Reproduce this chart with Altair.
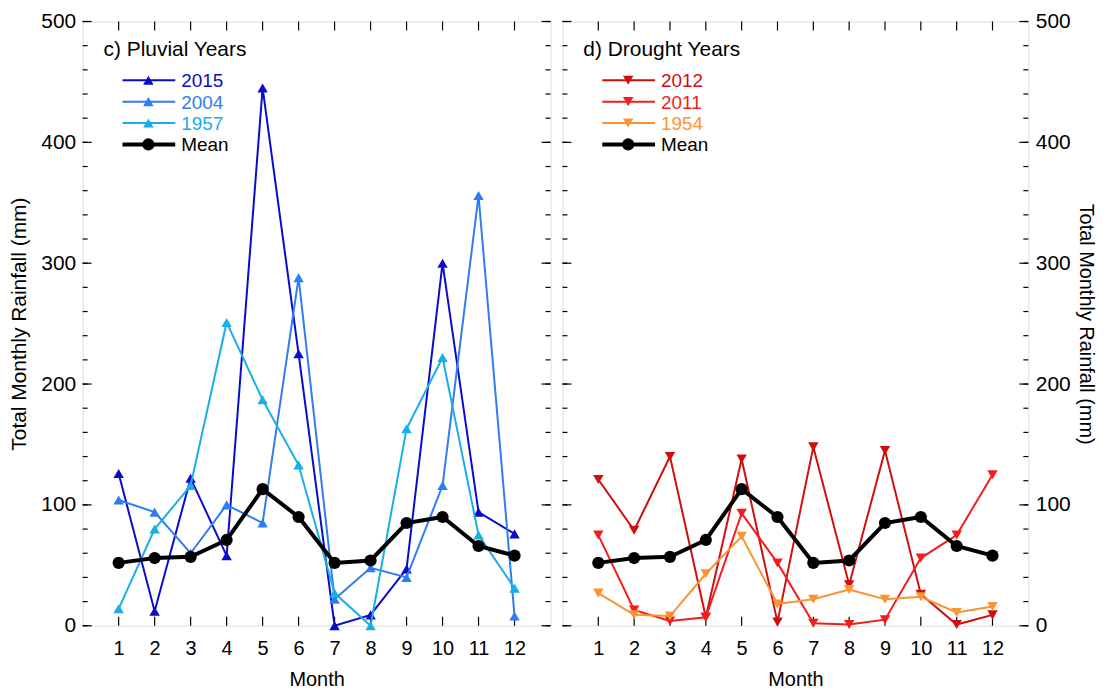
import altair as alt
import pandas as pd

# ---------------- data ----------------
months = list(range(1, 13))
mean_rain = [52, 56, 57, 71, 113, 90, 52, 54, 85, 90, 66, 58]

pluvial_names = ["2015", "2004", "1957"]
pluvial_colors = ["#0b0bcb", "#2f7df2", "#19aee8"]
pluvial_2015 = [126, 12, 122, 58, 445, 225, 0, 9, 47, 300, 94, 76]
pluvial_2004 = [104, 94, 60, 100, 85, 288, 22, 48, 40, 116, 356, 8]
pluvial_1957 = [14, 80, 116, 251, 187, 133, 27, 0, 163, 222, 75, 31]

drought_names = ["2012", "2011", "1954"]
drought_colors = ["#cf0e0e", "#f51c1c", "#fb9330"]
drought_2012 = [121, 79, 140, 7, 138, 3, 148, 34, 145, 26, 1, 9]
drought_2011 = [75, 13, 4, 7, 93, 52, 2, 1, 5, 56, 75, 125]
drought_1954 = [27, 9, 8, 43, 74, 18, 22, 30, 22, 24, 11, 16]

y_tick_labels = [0, 100, 200, 300, 400, 500]
y_minor = list(range(0, 501, 20))

FONT = "Liberation Sans"
H = 607
WL = 470
WR = 468


def x_enc(title):
    return alt.X(
        "month:Q",
        scale=alt.Scale(domain=[0, 13], nice=False, zero=False),
        axis=alt.Axis(values=months, title=title, ticks=False, domain=False,
                      grid=False, labelFontSize=20, labelPadding=13,
                      titleFontSize=20, titleFontWeight="normal", titlePadding=11,
                      labelFont=FONT, titleFont=FONT, labelColor="black",
                      titleColor="black"),
    )


def y_enc(field, orient):
    return alt.Y(
        field,
        scale=alt.Scale(domain=[0, 500], nice=False, zero=True),
        axis=alt.Axis(values=y_tick_labels, orient=orient,
                      title="Total Monthly Rainfall (mm)", ticks=False,
                      domain=False, grid=False, labelFontSize=21, labelPadding=7,
                      titleFontSize=21 if orient == "left" else 20,
                      titleFontWeight="normal",
                      titlePadding=11 if orient == "left" else 5,
                      labelFont=FONT, titleFont=FONT, labelColor="black",
                      titleColor="black"),
    )


def panel(title, names, colors, series, shape, W, orient):
    layers = []
    # frame ticks (inward)
    ydf_minor = pd.DataFrame({"v": y_minor})
    ydf_major = pd.DataFrame({"v": y_tick_labels})
    mdf = pd.DataFrame({"month": months})
    for df, L in [(ydf_minor, 5), (ydf_major, 9)]:
        layers.append(alt.Chart(df).mark_rule(color="black", strokeWidth=1.2).encode(
            y=y_enc("v:Q", orient), x=alt.value(0), x2=alt.value(L)))
        layers.append(alt.Chart(df).mark_rule(color="black", strokeWidth=1.2).encode(
            y=y_enc("v:Q", orient), x=alt.value(W - L), x2=alt.value(W)))
    layers.append(alt.Chart(mdf).mark_rule(color="black", strokeWidth=1.2).encode(
        x=x_enc("Month"), y=alt.value(H - 9), y2=alt.value(H)))
    layers.append(alt.Chart(mdf).mark_rule(color="black", strokeWidth=1.2).encode(
        x=x_enc("Month"), y=alt.value(0), y2=alt.value(9)))

    # data series
    for name, color, vals in zip(names, colors, series):
        df = pd.DataFrame({"month": months, "rain": vals, "series": name})
        layers.append(alt.Chart(df).mark_line(
            color=color, strokeWidth=2,
            point=alt.OverlayMarkDef(shape=shape, size=110, filled=True,
                                     color=color, opacity=1),
        ).encode(x=x_enc("Month"), y=y_enc("rain:Q", orient)))
    mdf2 = pd.DataFrame({"month": months, "rain": mean_rain})
    layers.append(alt.Chart(mdf2).mark_line(
        color="black", strokeWidth=4,
        point=alt.OverlayMarkDef(shape="circle", size=150, filled=True,
                                 color="black", opacity=1),
    ).encode(x=x_enc("Month"), y=y_enc("rain:Q", orient)))

    # panel title
    tdf = pd.DataFrame({"t": [title]})
    layers.append(alt.Chart(tdf).mark_text(
        align="left", baseline="middle", fontSize=21, font=FONT, color="black"
    ).encode(text="t:N", x=alt.value(21), y=alt.value(29)))

    # legend
    leg_names = names + ["Mean"]
    leg_colors = colors + ["black"]
    for i, (nm, c) in enumerate(zip(leg_names, leg_colors)):
        ly = 59 + i * 21.5
        ldf = pd.DataFrame({"t": [nm]})
        is_mean = nm == "Mean"
        layers.append(alt.Chart(ldf).mark_rule(
            color=c, strokeWidth=4 if is_mean else 2
        ).encode(x=alt.value(40), x2=alt.value(93), y=alt.value(ly)))
        layers.append(alt.Chart(ldf).mark_point(
            shape="circle" if is_mean else shape, size=150 if is_mean else 110,
            filled=True, color=c, opacity=1
        ).encode(x=alt.value(66), y=alt.value(ly)))
        layers.append(alt.Chart(ldf).mark_text(
            align="left", baseline="middle", fontSize=19, font=FONT, color=c
        ).encode(text="t:N", x=alt.value(99), y=alt.value(ly + 1)))

    return alt.layer(*layers).properties(width=W, height=H)


left = panel("c) Pluvial Years", pluvial_names, pluvial_colors,
             [pluvial_2015, pluvial_2004, pluvial_1957], "triangle-up", WL, "left")
right = panel("d) Drought Years", drought_names, drought_colors,
              [drought_2012, drought_2011, drought_1954], "triangle-down", WR, "right")

chart = alt.hconcat(left, right, spacing=8).properties(
    padding={"left": 0, "top": 0, "right": 5, "bottom": 0}
).configure_view(stroke="black", strokeWidth=1.5).configure(font=FONT, background="white")

chart.save("out.html", embed_options={"renderer": "svg", "actions": False})
